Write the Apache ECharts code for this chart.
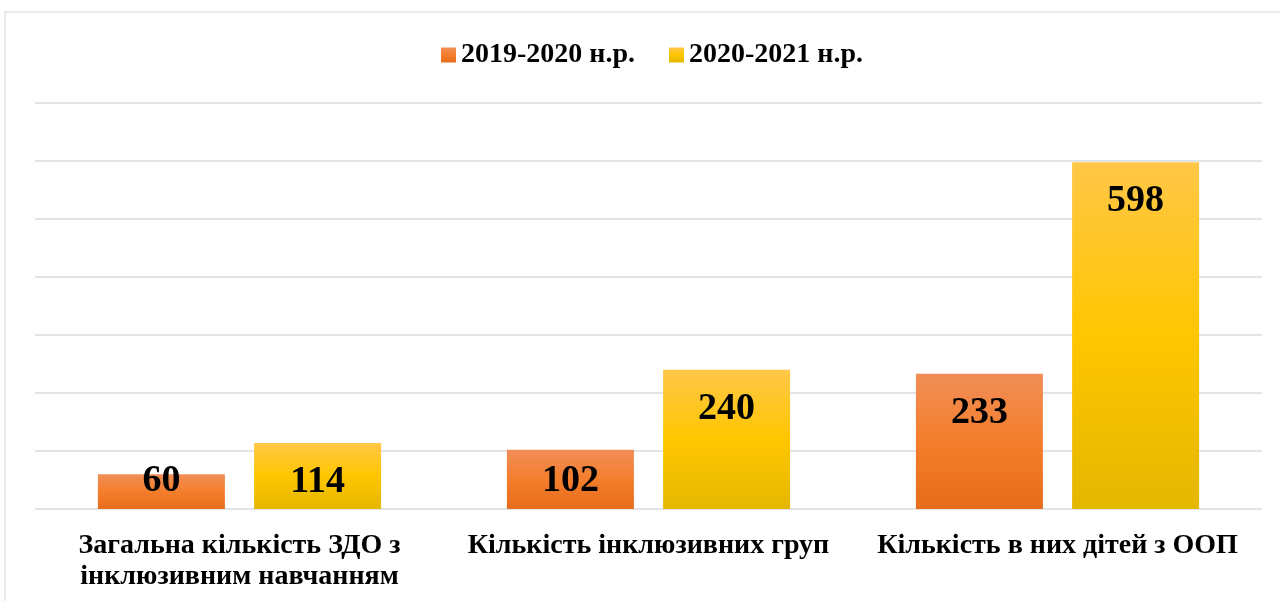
<!DOCTYPE html>
<html>
<head>
<meta charset="utf-8">
<script src="https://cdn.jsdelivr.net/npm/echarts@6/dist/echarts.min.js"></script>
<style>
  html, body { margin: 0; padding: 0; background: #fff; }
  #chart { width: 1280px; height: 601px; }
</style>
</head>
<body>
<div id="chart"></div>
<script>
var categories = ['Загальна кількість ЗДО з інклюзивним навчанням', 'Кількість інклюзивних груп', 'Кількість в них дітей з ООП'];
var seriesNames = ['2019-2020 н.р.', '2020-2021 н.р.'];
var values2019 = [60, 102, 233];
var values2020 = [114, 240, 598];

var font = 'Liberation Serif';

function grad(stops) {
	return new echarts.graphic.LinearGradient(0, 0, 0, 1, stops.map(function (c, i) {
		return { offset: i / (stops.length - 1), color: c };
	}));
}
var orange = grad(['#F18E58', '#F47E2C', '#E76C1B']);
var yellow = grad(['#FFC747', '#FFC600', '#E4B700']);

// short bars: Excel keeps the label from dropping below the axis
function labelled(vals) {
	return vals.map(function (v) {
		if (v < 80) return { value: v, label: { position: 'insideTop', distance: 0, offset: [0, -12] } };
		if (v < 110) return { value: v, label: { position: 'insideTop', distance: 12 } };
		return v;
	});
}

var myChart = echarts.init(document.getElementById('chart'));
var option = {
	animation: false,
	textStyle: { fontFamily: font },
	graphic: [{
		type: 'rect',
		shape: { x: 5, y: 12, width: 1400, height: 800 },
		style: { fill: 'none', stroke: '#e2e5ea', lineWidth: 1.5 },
		silent: true
	}],
	legend: {
		top: 36,
		left: 436,
		itemWidth: 15,
		itemHeight: 15,
		itemGap: 34,
		icon: 'rect',
		textStyle: { fontFamily: font, fontWeight: 'bold', fontSize: 28, color: '#000' },
		data: seriesNames
	},
	grid: { left: 35, right: 18, top: 103, bottom: 92, containLabel: false, outerBoundsMode: 'none' },
	xAxis: {
		type: 'category',
		data: categories,
		axisLine: { show: false },
		axisTick: { show: false },
		axisLabel: {
			interval: 0,
			margin: 21,
			lineHeight: 31,
			hideOverlap: false,
			formatter: function (v) { return v.replace('ЗДО з ', 'ЗДО з\n'); },
			fontFamily: font,
			fontWeight: 'bold',
			fontSize: 28,
			color: '#000'
		}
	},
	yAxis: {
		type: 'value',
		min: 0,
		max: 700,
		interval: 100,
		axisLabel: { show: false },
		axisLine: { show: false },
		axisTick: { show: false },
		splitLine: { lineStyle: { color: '#e1e4e9', width: 2 } }
	},
	series: [{
		name: seriesNames[0],
		type: 'bar',
		data: labelled(values2019),
		barWidth: 127,
		barGap: '23%',
		itemStyle: { color: orange },
		label: {
			show: true,
			position: 'insideTop',
			distance: 20,
			fontFamily: font,
			fontWeight: 'bold',
			fontSize: 38,
			color: '#000'
		}
	}, {
		name: seriesNames[1],
		type: 'bar',
		data: labelled(values2020),
		barWidth: 127,
		itemStyle: { color: yellow },
		label: {
			show: true,
			position: 'insideTop',
			distance: 20,
			fontFamily: font,
			fontWeight: 'bold',
			fontSize: 38,
			color: '#000'
		}
	}]
};
myChart.setOption(option);
</script>
</body>
</html>
